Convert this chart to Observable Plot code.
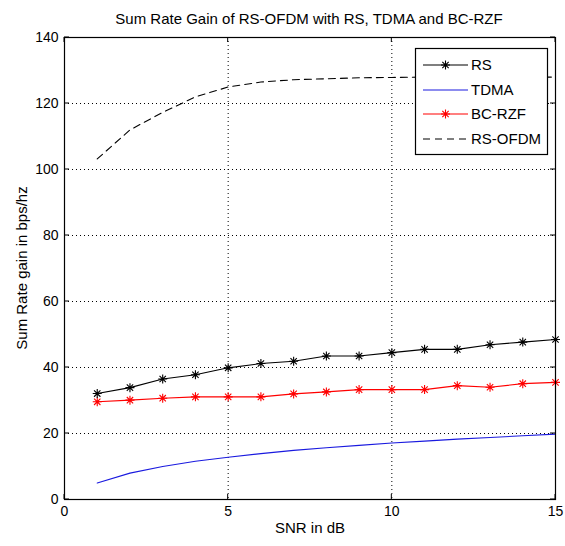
<!DOCTYPE html>
<html><head><meta charset="utf-8">
<script src="https://cdn.jsdelivr.net/npm/d3@7"></script>
<script src="https://cdn.jsdelivr.net/npm/@observablehq/plot@0.6"></script>
<style>
html,body{margin:0;padding:0;background:#fff;}
svg{display:block;}
</style>
</head><body>
<div id="chart"></div>
<script>
const snr = [1,2,3,4,5,6,7,8,9,10,11,12,13,14,15];
const rs      = [32.1,33.9,36.5,37.8,39.9,41.2,41.9,43.5,43.5,44.5,45.5,45.5,46.9,47.7,48.5];
const tdma    = [5.0,8.0,10.0,11.6,12.8,13.9,14.9,15.7,16.4,17.1,17.7,18.3,18.8,19.3,19.8];
const bcrzf   = [29.6,30.1,30.7,31.1,31.1,31.1,32.0,32.6,33.3,33.3,33.3,34.5,34.0,35.1,35.5];
const rsofdm  = [103.2,112.0,117.3,122.0,125.0,126.5,127.2,127.5,127.8,127.9,128.0,128.0,128.0,128.0,128.0];
const xTicks = [0,5,10,15];
const yTicks = [0,20,40,60,80,100,120,140];
const seriesNames = ["RS","TDMA","BC-RZF","RS-OFDM"];
const seriesColors = ["#000000","#1a1adf","#ff0000","#000000"];
const titleText = "Sum Rate Gain of RS-OFDM with RS, TDMA and BC-RZF";
const xLabel = "SNR in dB";
const yLabel = "Sum Rate gain in bps/hz";

const toRows = (vals) => snr.map((x,i) => ({x, y: vals[i]}));
const rsRows = toRows(rs), tdmaRows = toRows(tdma), bcRows = toRows(bcrzf), ofdmRows = toRows(rsofdm);

const star = {
  draw(ctx, size) {
    const r = Math.sqrt(size / Math.PI);
    const d = r * Math.SQRT1_2;
    ctx.moveTo(0,-r); ctx.lineTo(0,r);
    ctx.moveTo(-r,0); ctx.lineTo(r,0);
    ctx.moveTo(-d,-d); ctx.lineTo(d,d);
    ctx.moveTo(-d,d); ctx.lineTo(d,-d);
  }
};

const W = 565, H = 546;
const font = "'Liberation Sans', Arial, sans-serif";
const plot = Plot.plot({
  width: W, height: H,
  marginLeft: 64, marginRight: 10, marginTop: 37, marginBottom: 47,
  style: {fontFamily: font, fontSize: "14px", background: "#fff", color: "#000"},
  x: {domain: [0,15], ticks: xTicks},
  y: {domain: [0,140], ticks: yTicks},
  marks: [
    Plot.gridX(xTicks, {stroke: "#000", strokeOpacity: 1, strokeDasharray: "1,3"}),
    Plot.gridY(yTicks, {stroke: "#000", strokeOpacity: 1, strokeDasharray: "1,3"}),
    Plot.axisX(xTicks, {anchor: "bottom", tickSize: 0, tickPadding: 7, label: null, fontSize: 14}),
    Plot.axisY(yTicks, {anchor: "left", tickSize: 0, tickPadding: 6, label: null, fontSize: 14}),
    Plot.line(tdmaRows, {x: "x", y: "y", stroke: seriesColors[1], strokeWidth: 1.1}),
    Plot.line(bcRows, {x: "x", y: "y", stroke: seriesColors[2], strokeWidth: 1.1}),
    Plot.dot(bcRows, {x: "x", y: "y", stroke: seriesColors[2], symbol: star, r: 4.5, strokeWidth: 1.1}),
    Plot.line(rsRows, {x: "x", y: "y", stroke: seriesColors[0], strokeWidth: 1.1}),
    Plot.dot(rsRows, {x: "x", y: "y", stroke: seriesColors[0], symbol: star, r: 4.5, strokeWidth: 1.1}),
    Plot.line(ofdmRows, {x: "x", y: "y", stroke: seriesColors[3], strokeWidth: 1.1, strokeDasharray: "7,5"}),
    Plot.frame({stroke: "#000", strokeWidth: 1.2})
  ]
});
document.getElementById("chart").appendChild(plot);

const svg = d3.select(plot);
const sx = plot.scale("x"), sy = plot.scale("y");
const [x0, x1] = sx.range, [y0, y1] = sy.range; // y0 bottom, y1 top
const tk = 5;
const tg = svg.append("g").attr("stroke", "#000").attr("stroke-width", 1);
xTicks.forEach(v => {
  const px = sx.apply(v);
  tg.append("line").attr("x1", px).attr("x2", px).attr("y1", y0).attr("y2", y0 - tk);
  tg.append("line").attr("x1", px).attr("x2", px).attr("y1", y1).attr("y2", y1 + tk);
});
yTicks.forEach(v => {
  const py = sy.apply(v);
  tg.append("line").attr("x1", x0).attr("x2", x0 + tk).attr("y1", py).attr("y2", py);
  tg.append("line").attr("x1", x1).attr("x2", x1 - tk).attr("y1", py).attr("y2", py);
});

svg.append("text").attr("x", 309).attr("y", 24).attr("text-anchor", "middle")
  .attr("font-family", font).attr("font-size", 15).text(titleText);
svg.append("text").attr("x", 310).attr("y", 533).attr("text-anchor", "middle")
  .attr("font-family", font).attr("font-size", 15).text(xLabel);
svg.append("text").attr("transform", "translate(27,268) rotate(-90)").attr("text-anchor", "middle")
  .attr("font-family", font).attr("font-size", 15).text(yLabel);

// legend
const lg = svg.append("g").attr("font-family", font).attr("font-size", 15);
lg.append("rect").attr("x", 415.5).attr("y", 48.5).attr("width", 132).attr("height", 106)
  .attr("fill", "#fff").attr("stroke", "#000").attr("stroke-width", 1.2);
const ys = [65, 90, 114, 139];
seriesNames.forEach((name, i) => {
  const y = ys[i];
  lg.append("line").attr("x1", 423).attr("x2", 468).attr("y1", y).attr("y2", y)
    .attr("stroke", seriesColors[i]).attr("stroke-width", 1.1)
    .attr("stroke-dasharray", i === 3 ? "7,5" : null);
  if (i === 0 || i === 2) {
    const path = d3.path(); star.draw(path, Math.PI * 4.5 * 4.5);
    lg.append("path").attr("d", path.toString()).attr("transform", `translate(445.5,${y})`)
      .attr("stroke", seriesColors[i]).attr("stroke-width", 1.1).attr("fill", "none");
  }
  lg.append("text").attr("x", 471).attr("y", y).attr("dy", "0.35em")
    .attr("text-anchor", "start").text(name);
});
</script>
</body></html>
